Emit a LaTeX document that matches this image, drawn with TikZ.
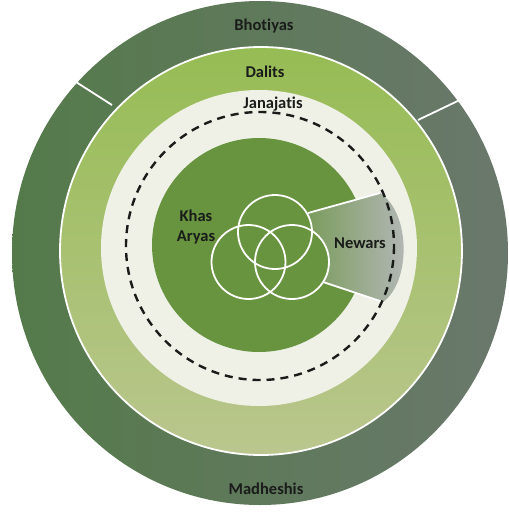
\documentclass[tikz,border=0pt]{standalone}
\usepackage{fontspec}
\setmainfont{Carlito}[Ligatures=CommonOff]
\definecolor{outerL}{RGB}{84,122,74}
\definecolor{outerR}{RGB}{106,120,108}
\definecolor{dalitT}{RGB}{150,188,84}
\definecolor{dalitB}{RGB}{186,198,142}
\definecolor{ringW}{RGB}{239,241,231}
\definecolor{coreG}{RGB}{104,148,64}
\definecolor{wedgeL}{RGB}{118,154,86}
\definecolor{wedgeM}{RGB}{128,160,98}
\definecolor{wedgeR}{RGB}{182,184,186}
\definecolor{labelK}{RGB}{26,28,26}
\tikzset{
  lbl/.style={font=\fontsize{16.5}{20}\selectfont\bfseries, text=labelK, inner sep=0pt},
  venn/.style={circle, draw=white, line width=1.8pt, minimum size=74pt, inner sep=0pt},
  sepline/.style={white, line width=1.8pt},
  dashring/.style={labelK, line width=2.4pt, dash pattern=on 8pt off 6pt}
}
\begin{document}
\begin{tikzpicture}[x=1pt,y=-1pt]
  % page
  \fill[white] (0,0) rectangle (509,515);
  \useasboundingbox (0,0) rectangle (509,515);
  % outer ring (Bhotiyas / Madheshis)
  \shade[left color=outerL, right color=outerR] (260,253) ellipse [x radius=248, y radius=252];
  % Dalits ring
  \shade[top color=dalitT, bottom color=dalitB] (261,251) ellipse [x radius=201, y radius=204];
  \draw[sepline] (261,251) ellipse [x radius=201, y radius=204];
  % separators in the outer ring
  \coordinate (sLi) at (112,105);
  \coordinate (sLo) at (76,82);
  \coordinate (sRi) at (418,120);
  \coordinate (sRo) at (464,98);
  \draw[sepline] (sLi) -- (sLo);
  \draw[sepline] (sRi) -- (sRo);
  % white ring (Janajatis)
  \fill[ringW] (259,248) circle [radius=158];
  % inner green disk
  \fill[coreG] (259,245) circle [radius=107];
  % Newars wedge
  \shade[left color=wedgeL, middle color=wedgeM, right color=wedgeR]
    (300,250) -- (308,213) -- (380,193) .. controls (411,213) and (411,282) .. (383,302) -- (323,282) -- cycle;
  % Venn circles
  \fill[coreG] (275,232) circle [radius=37] (248.5,262) circle [radius=37] (292,262) circle [radius=37];
  \node[venn] (vtop) at (275,232) {};
  \node[venn] (vleft) at (248.5,262) {};
  \node[venn] (vright) at (292,262) {};
  \draw[white, line width=1.8pt] (308,213) -- (380,193);
  \draw[white, line width=1.8pt] (323,282) -- (383,302);
  % dashed circle
  \draw[dashring] (260,246) circle [radius=134];
  % labels
  \node[lbl] (bhot) at (264,26) {Bhotiyas};
  \node[lbl] (dal) at (265,72) {Dalits};
  \node[lbl] (jan) at (273,104) {Janajatis};
  \node[lbl] (mad) at (266,489) {Madheshis};
  \node[lbl, align=center] (khas) at (196,227) {Khas\\Aryas};
  \node[lbl] (new) at (360,243) {Newars};
\end{tikzpicture}
\end{document}
